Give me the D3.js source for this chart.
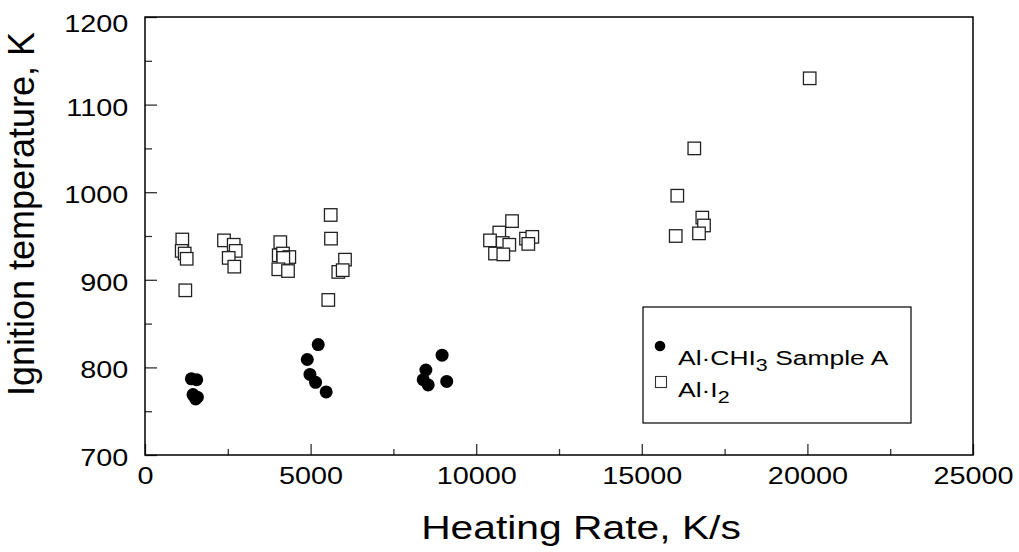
<!DOCTYPE html>
<html><head><meta charset="utf-8">
<script src="https://cdn.jsdelivr.net/npm/d3@7"></script>
<style>body{margin:0;background:#fff}svg{display:block}text{font-family:Arial,"Liberation Sans",sans-serif;fill:#000}</style>
</head><body><svg id="c" width="1019" height="552"></svg>
<script>
const xTickValues = [0, 5000, 10000, 15000, 20000, 25000];
const yTickValues = [700, 800, 900, 1000, 1100, 1200];
const xMinorValues = [2500, 7500, 12500, 17500, 22500];
const yMinorValues = [750, 850, 950, 1050, 1150];

const chi3Rate = [1400, 1560, 1450, 1530, 1580, 4900, 4980, 5150, 5230, 5470, 8400, 8480, 8550, 8970, 9110];
const chi3Temp = [787, 786, 769, 764, 766, 809, 792, 783, 826, 772, 786, 797, 780, 814, 784];

const i2Rate = [1126, 1108, 1199, 1259, 1217, 2385, 2678, 2738, 2527, 2696, 4085, 4037, 4167, 4357, 4176, 4025, 4318, 5607, 5616, 6039, 5836, 5969, 5534, 11082, 10697, 10417, 10800, 10999, 10568, 10818, 11504, 11694, 11573, 20069, 16585, 16072, 16827, 16878, 16727, 16024];
const i2Temp = [946, 933, 930, 924, 888, 945, 940, 933, 925, 915, 943, 928, 930, 926, 925, 912, 910, 974, 947, 923, 909, 911, 877, 967, 954, 945, 942, 940, 930, 929, 947, 949, 941, 1130, 1050, 996, 971, 962, 953, 950];

const svg = d3.select("#c");
const L = 145, R = 973, T = 17, B = 455;
const x = d3.scaleLinear().domain([0, 25000]).range([L, R]);
const y = d3.scaleLinear().domain([700, 1200]).range([B, T]);
const SX = 1.2;

// ticks (inward)
const gx = svg.append("g").attr("transform", `translate(0,${B})`)
  .call(d3.axisBottom(x).tickValues(xTickValues).tickSize(-11).tickPadding(12).tickFormat(d3.format("d")));
const gxm = svg.append("g").attr("transform", `translate(0,${B})`)
  .call(d3.axisBottom(x).tickValues(xMinorValues).tickSize(-6).tickFormat(""));
const gy = svg.append("g").attr("transform", `translate(${L},0)`)
  .call(d3.axisLeft(y).tickValues(yTickValues).tickSize(-12).tickPadding(14).tickFormat(d3.format("d")));
const gym = svg.append("g").attr("transform", `translate(${L},0)`)
  .call(d3.axisLeft(y).tickValues(yMinorValues).tickSize(-7).tickFormat(""));
[gx, gxm, gy, gym].forEach(g => {
  g.select(".domain").remove();
  g.selectAll(".tick line").attr("stroke", "#333").attr("stroke-width", 1.3);
  g.selectAll("text").style("font-size", "24px").attr("fill", "#000")
    .attr("transform", `scale(${SX},1)`);
});
// keep the top label inside the figure, as in the original
gy.selectAll("text").attr("dy", d => Math.max(10.5, 31.5 - y(d)));

// frame
svg.append("rect").attr("x", L).attr("y", T).attr("width", R - L).attr("height", B - T)
  .attr("fill", "none").attr("stroke", "#000").attr("stroke-width", 1.5);

// squares Al·I2
const sq = 12.5;
svg.append("g").selectAll("rect").data(i2Rate.map((r, i) => [r, i2Temp[i]])).join("rect")
  .attr("x", d => x(d[0]) - sq / 2).attr("y", d => y(d[1]) - sq / 2)
  .attr("width", sq).attr("height", sq)
  .attr("fill", "#fff").attr("stroke", "#222").attr("stroke-width", 1.3);

// circles Al·CHI3
svg.append("g").selectAll("circle").data(chi3Rate.map((r, i) => [r, chi3Temp[i]])).join("circle")
  .attr("cx", d => x(d[0])).attr("cy", d => y(d[1])).attr("r", 6.5).attr("fill", "#000");

// axis titles
svg.append("text").attr("transform", `translate(581,539) scale(${SX},1)`).attr("text-anchor", "middle")
  .style("font-size", "34px").text("Heating Rate, K/s");
svg.append("text").attr("transform", `translate(34,214) rotate(-90)`).attr("text-anchor", "middle")
  .style("font-size", "36px").text("Ignition temperature, K");

// legend
const lg = svg.append("g");
lg.append("rect").attr("x", 643).attr("y", 307).attr("width", 268).attr("height", 116)
  .attr("fill", "#fff").attr("stroke", "#000").attr("stroke-width", 1.2);
lg.append("circle").attr("cx", 660).attr("cy", 346).attr("r", 5.3).attr("fill", "#000");
lg.append("rect").attr("x", 655.5).attr("y", 376.5).attr("width", 11).attr("height", 11)
  .attr("fill", "#fff").attr("stroke", "#333").attr("stroke-width", 1.1);
const t1 = lg.append("text").attr("transform", "translate(678,365) scale(1.26,1)").style("font-size", "21px");
t1.append("tspan").text("Al·CHI");
t1.append("tspan").attr("dy", 6).style("font-size", "17px").text("3");
t1.append("tspan").attr("dy", -6).text(" Sample A");
const t2 = lg.append("text").attr("transform", "translate(678,397) scale(1.26,1)").style("font-size", "21px");
t2.append("tspan").text("Al·I");
t2.append("tspan").attr("dy", 6).style("font-size", "17px").text("2");
</script></body></html>
